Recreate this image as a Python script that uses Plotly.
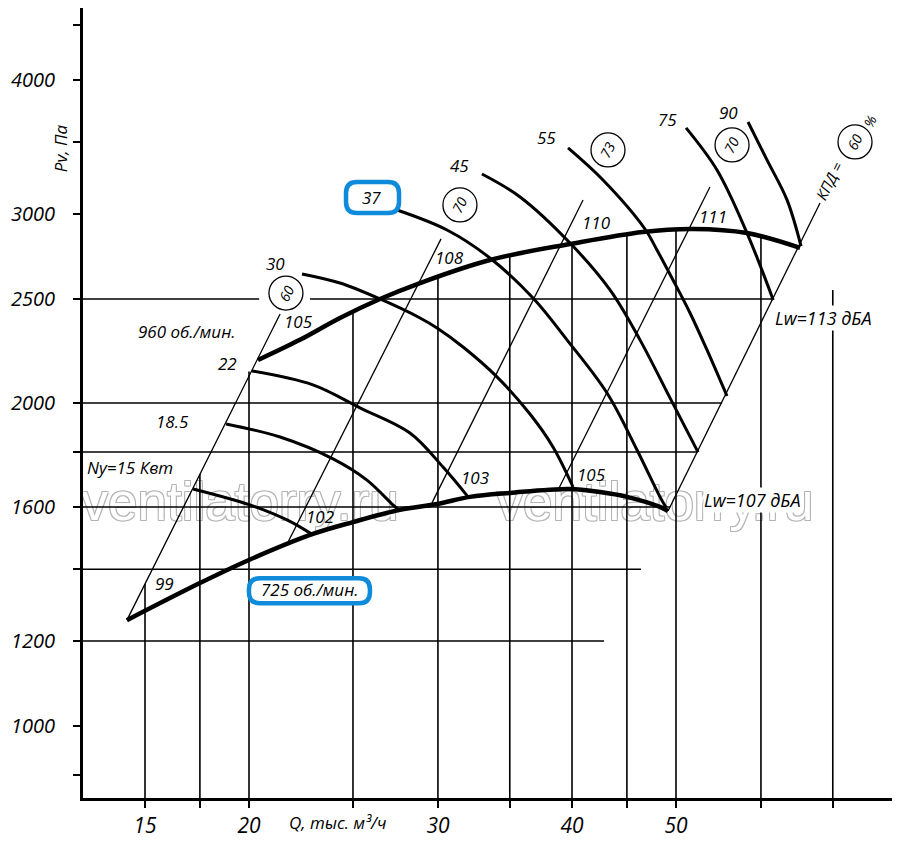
import numpy as np
import plotly.graph_objects as go

FONT = "Open Sans"
BLUE = "#0e8bda"

# оси: Q, тыс. м3/ч (лог) и Pv, Па (лог)
X_TICKS = [16, 18, 20, 25, 30, 35, 40, 45, 50, 60, 70]
X_LABELS = ["15", "", "20", "", "30", "", "40", "", "50", "", ""]
Y_TICKS = [900, 1000, 1200, 1400, 1600, 1800, 2000, 2500, 3000, 3500, 4000, 4500]
Y_LABELS = ["", "1000", "1200", "", "1600", "", "2000", "2500", "3000", "", "4000", ""]

# характеристики вентилятора при 960 и 725 об/мин
Q_960 = [20.39, 22.31, 24.31, 26.49, 28.87, 33.54, 39.83, 46.58, 51.86, 58.23, 65.25]
P_960 = [2193, 2290, 2400, 2500, 2587, 2718, 2813, 2887, 2905, 2880, 2790]
Q_725 = [15.39, 18.00, 20.00, 22.94, 25.00, 27.65, 29.94, 32.14, 35.02, 39.83, 42.48, 45.01, 48.31, 49.15]
P_725 = [1255, 1359, 1428, 1510, 1549, 1590, 1610, 1635, 1649, 1663, 1652, 1635, 1600, 1586]

# кривые мощности Ny, кВт
N_15_Q = [17.74, 20.04, 21.70, 22.94]
N_15_P = [1663, 1607, 1556, 1507]
N_18_Q = [19.04, 21.38, 23.95, 25.76, 27.24, 27.65]
N_18_P = [1912, 1859, 1774, 1695, 1607, 1586]
N_22_Q = [20.13, 22.94, 25.38, 28.25, 30.33, 32.00]
N_22_P = [2142, 2079, 1979, 1875, 1743, 1635]
N_30_Q = [22.41, 24.31, 26.49, 28.87, 29.94, 31.66, 34.05, 36.55, 38.40, 40.09]
N_30_P = [2638, 2587, 2500, 2400, 2349, 2255, 2115, 1953, 1820, 1670]
N_37_Q = [27.48, 30.59, 33.54, 36.79, 39.57, 43.12, 45.99, 48.31, 48.95]
N_37_P = [3026, 2899, 2730, 2505, 2290, 2043, 1808, 1635, 1598]
N_45_Q = [32.97, 35.78, 39.83, 43.40, 46.28, 49.36, 52.42]
N_45_P = [3269, 3112, 2819, 2549, 2290, 2022, 1800]
N_55_Q = [39.66, 42.75, 46.78, 48.00, 49.68, 51.53, 53.44, 55.78]
N_55_P = [3457, 3227, 2905, 2777, 2604, 2426, 2241, 2030]
N_75_Q = [51.09, 54.60, 58.23, 61.60]
N_75_P = [3609, 3297, 2880, 2495]
N_90_Q = [58.36, 60.78, 63.45, 65.39]
N_90_P = [3655, 3369, 3092, 2800]

# лучи КПД (начало и конец)
RAY_Q0 = [15.39, 21.75, 29.62, 38.82, 49.15]
RAY_P0 = [1255, 1484, 1614, 1659, 1586]
RAY_Q1 = [21.38, 30.20, 40.96, 53.78, 68.11]
RAY_P1 = [2421, 2844, 3092, 3179, 3072]
KPD_TEXT = ["60", "70", "73", "70", "60"]
KPD_Q = [21.65, 31.45, 43.21, 56.39, 73.42]
KPD_P = [2532, 3059, 3442, 3479, 3502]

# сетка
V_Q = [16, 18, 20, 25, 30, 35, 40, 45, 50, 60, 70]
V_TOP = [1356, 1717, 2140, 2430, 2615, 2736, 2825, 2880, 2899, 2850, 2549]
H_P = [1200, 1400, 1600, 1800, 2000]
H_END = [42.84, 46.38, 49.37, 52.36, 55.20]
H2500_SEG = [(12.0, 20.44), (22.80, 61.6)]

fig = go.Figure()


def lg(v):
    return float(np.log10(v))


def line(q, p, width, shape="linear"):
    fig.add_trace(go.Scatter(x=q, y=p, mode="lines", hoverinfo="skip",
                             line=dict(color="black", width=width, shape=shape)))


# водяной знак
fig.add_trace(go.Scatter(
    x=[19.62, 47.80], y=[1600, 1600], mode="text",
    text=["ventilatorry.ru", "ventilatorry.ru"], hoverinfo="skip",
    textfont=dict(family="Liberation Sans", size=53, color="white",
                  shadow="1px 1px 0 #b4b4b4, -1px -1px 0 #b4b4b4, 1px -1px 0 #b4b4b4, -1px 1px 0 #b4b4b4"),
))

# сетка
for q, top in zip(V_Q, V_TOP):
    line([q, q], [800, top], 1.6)
for p, end in zip(H_P, H_END):
    line([12, end], [p, p], 1.6)
for a, b in H2500_SEG:
    line([a, b], [2500, 2500], 1.6)

# лучи КПД
for q0, p0, q1, p1 in zip(RAY_Q0, RAY_P0, RAY_Q1, RAY_P1):
    line([q0, q1], [p0, p1], 1.3)

# мощность
for q, p in [(N_15_Q, N_15_P), (N_18_Q, N_18_P), (N_22_Q, N_22_P), (N_30_Q, N_30_P),
             (N_37_Q, N_37_P), (N_45_Q, N_45_P), (N_55_Q, N_55_P), (N_75_Q, N_75_P),
             (N_90_Q, N_90_P)]:
    line(q, p, 3, "spline")

# частоты вращения
line(Q_960, P_960, 4.5, "spline")
line(Q_725, P_725, 4.5, "spline")

# кружки КПД
fig.add_trace(go.Scatter(
    x=KPD_Q, y=KPD_P, mode="markers", hoverinfo="skip",
    marker=dict(symbol="circle", size=34, color="white", line=dict(color="black", width=1.3)),
))

annotations = []


def label(q, p, text, size=17, angle=0, bg=None):
    annotations.append(dict(
        x=lg(q), y=lg(p), xref="x", yref="y", text=text, showarrow=False,
        textangle=angle, bgcolor=bg, borderpad=0,
        font=dict(family=FONT, size=size, color="black", style="italic"),
    ))


for q, p, t in zip(KPD_Q, KPD_P, KPD_TEXT):
    label(q, p, t, 14, -63)

label(17.51, 2329, "960 об./мин.")
label(19.08, 2179, "22")
label(16.99, 1920, "18.5")
label(15.49, 1743, "Ny=15 Квт")
label(21.15, 2695, "30")
label(22.22, 2380, "105")
label(30.72, 2730, "108")
label(42.20, 2949, "110")
label(54.13, 2981, "111")
label(31.39, 3326, "45")
label(37.83, 3532, "55")
label(49.05, 3671, "75")
label(56.02, 3727, "90")
label(26.04, 3110, "37")
label(22.80, 1339, "725 об./мин.")
label(16.70, 1359, "99")
label(23.29, 1566, "102")
label(32.48, 1706, "103")
label(41.75, 1714, "105")
label(58.86, 1624, "Lw=107 дБА", 18, bg="white")
label(68.55, 2400, "Lw=113 дБА", 18, bg="white")
label(69.44, 3220, "КПД =", 15, -63)
label(75.82, 3655, "%", 14, -63)

annotations.append(dict(x=-0.028, y=0.823, xref="paper", yref="paper", text="Pv, Па",
                        showarrow=False, textangle=-90, xanchor="center", yanchor="middle",
                        font=dict(family=FONT, size=17, color="black", style="italic")))
annotations.append(dict(x=0.3152, y=-0.0316, xref="paper", yref="paper", text="Q, тыс. м³/ч",
                        showarrow=False, xanchor="center", yanchor="middle",
                        font=dict(family=FONT, size=17, color="black", style="italic")))


def rounded_box(q, p, w, h, r):
    a, b = w / 2, h / 2
    path = (f"M {-a + r},{-b} L {a - r},{-b} Q {a},{-b} {a},{-b + r} "
            f"L {a},{b - r} Q {a},{b} {a - r},{b} L {-a + r},{b} "
            f"Q {-a},{b} {-a},{b - r} L {-a},{-b + r} Q {-a},{-b} {-a + r},{-b} Z")
    return dict(type="path", path=path, xref="x", yref="y",
                xsizemode="pixel", ysizemode="pixel", xanchor=q, yanchor=p,
                fillcolor="white", line=dict(color=BLUE, width=4.5), layer="above")


# страница открывается с отступом body 8px, поэтому размеры и поля уменьшены на 8
fig.update_layout(
    width=892, height=838,
    margin=dict(l=75, r=8, t=0, b=48),
    paper_bgcolor="white", plot_bgcolor="white",
    showlegend=False,
    annotations=annotations,
    shapes=[rounded_box(26.07, 3108, 53, 31, 11), rounded_box(22.77, 1337, 121, 25, 11)],
    xaxis=dict(type="log", range=[1.14633, 1.90028], tickvals=X_TICKS, ticktext=X_LABELS,
               ticks="outside", ticklen=7, tickwidth=1.5, tickcolor="black",
               showgrid=False, zeroline=False, showline=True, linewidth=3,
               linecolor="black", mirror=True, automargin=False,
               tickfont=dict(family=FONT, size=21, color="black", style="italic")),
    yaxis=dict(type="log", range=[2.9329, 3.6691], tickvals=Y_TICKS, ticktext=Y_LABELS,
               ticks="outside", ticklen=7, tickwidth=1.5, tickcolor="black",
               ticklabelstandoff=14, automargin=False,
               showgrid=False, zeroline=False, showline=True, linewidth=3,
               linecolor="black", mirror=True,
               tickfont=dict(family=FONT, size=20, color="black", style="italic")),
)

fig.write_html("out.html")
